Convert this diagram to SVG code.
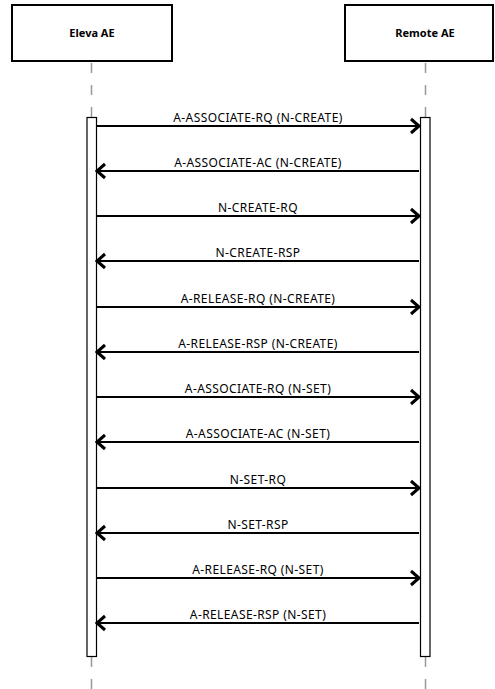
<svg xmlns="http://www.w3.org/2000/svg" width="495" height="689" viewBox="0 0 495 689">
<style>
.box{fill:#fff;stroke:#000;stroke-width:2}
.title{font-family:"Noto Sans","Liberation Sans",sans-serif;font-size:11px;font-weight:bold;text-anchor:middle}
.life{stroke:#999;stroke-width:1.5;stroke-dasharray:10 12}
.act{fill:#fff;stroke:#000;stroke-width:1.2}
.msg{stroke:#000;stroke-width:2;fill:none}
.lbl{font-family:"Noto Sans","Liberation Sans",sans-serif;font-size:12px;letter-spacing:0.4px;text-anchor:middle;fill:#000}
</style>
<defs>
<marker id="ah" markerWidth="12" markerHeight="18" refX="10" refY="9" orient="auto" markerUnits="userSpaceOnUse">
<path d="M2,2 L10,9 L2,16" fill="none" stroke="#000" stroke-width="3"/>
</marker>
</defs>
<g id="eleva">
<rect class="box" x="12" y="5" width="160" height="56"/>
<text class="title" x="92" y="37">Eleva AE</text>
<line class="life" x1="91.5" y1="63" x2="91.5" y2="689"/>
<rect class="act" x="87" y="117.5" width="9.5" height="539"/>
</g>
<g id="remote">
<rect class="box" x="345" y="5" width="148" height="56"/>
<text class="title" x="425" y="37">Remote AE</text>
<line class="life" x1="425.5" y1="63" x2="425.5" y2="689"/>
<rect class="act" x="420.5" y="117.5" width="9.5" height="539"/>
</g>
<g id="connectors">
<line class="msg" x1="97" y1="126" x2="419" y2="126" marker-end="url(#ah)"/>
<text class="lbl" x="258" y="122">A-ASSOCIATE-RQ (N-CREATE)</text>
<line class="msg" x1="419" y1="171" x2="97" y2="171" marker-end="url(#ah)"/>
<text class="lbl" x="258" y="167">A-ASSOCIATE-AC (N-CREATE)</text>
<line class="msg" x1="97" y1="216" x2="419" y2="216" marker-end="url(#ah)"/>
<text class="lbl" x="258" y="212">N-CREATE-RQ</text>
<line class="msg" x1="419" y1="261" x2="97" y2="261" marker-end="url(#ah)"/>
<text class="lbl" x="258" y="257">N-CREATE-RSP</text>
<line class="msg" x1="97" y1="307" x2="419" y2="307" marker-end="url(#ah)"/>
<text class="lbl" x="258" y="303">A-RELEASE-RQ (N-CREATE)</text>
<line class="msg" x1="419" y1="352" x2="97" y2="352" marker-end="url(#ah)"/>
<text class="lbl" x="258" y="348">A-RELEASE-RSP (N-CREATE)</text>
<line class="msg" x1="97" y1="397" x2="419" y2="397" marker-end="url(#ah)"/>
<text class="lbl" x="258" y="393">A-ASSOCIATE-RQ (N-SET)</text>
<line class="msg" x1="419" y1="442" x2="97" y2="442" marker-end="url(#ah)"/>
<text class="lbl" x="258" y="438">A-ASSOCIATE-AC (N-SET)</text>
<line class="msg" x1="97" y1="488" x2="419" y2="488" marker-end="url(#ah)"/>
<text class="lbl" x="258" y="484">N-SET-RQ</text>
<line class="msg" x1="419" y1="533" x2="97" y2="533" marker-end="url(#ah)"/>
<text class="lbl" x="258" y="529">N-SET-RSP</text>
<line class="msg" x1="97" y1="578" x2="419" y2="578" marker-end="url(#ah)"/>
<text class="lbl" x="258" y="574">A-RELEASE-RQ (N-SET)</text>
<line class="msg" x1="419" y1="623" x2="97" y2="623" marker-end="url(#ah)"/>
<text class="lbl" x="258" y="619">A-RELEASE-RSP (N-SET)</text>
</g>
</svg>
